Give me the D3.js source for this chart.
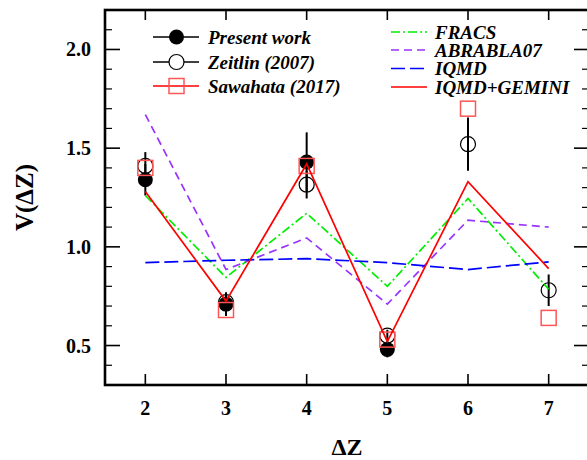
<!DOCTYPE html>
<html><head><meta charset="utf-8">
<script src="https://cdn.jsdelivr.net/npm/d3@7"></script>
<style>html,body{margin:0;padding:0;background:#fff;overflow:hidden}</style>
</head><body><svg id="c" width="587" height="460"></svg>
<script>
const dz = [2, 3, 4, 5, 6, 7];
const xTicks = [2, 3, 4, 5, 6, 7];
const yTicks = [0.5, 1.0, 1.5, 2.0];
const presentZ = [2, 3, 4, 5];
const presentV = [1.34, 0.71, 1.43, 0.48];
const presentErr = [0.08, 0.06, 0.15, 0.04];
const zeitlinV = [1.41, 0.72, 1.315, 0.55, 1.52, 0.78];
const zeitlinErr = [0.07, 0.03, 0.07, 0.03, 0.135, 0.08];
const sawahataV = [1.40, 0.68, 1.41, 0.53, 1.70, 0.64];
const fracsV = [1.26, 0.845, 1.17, 0.80, 1.245, 0.785];
const abrablaV = [1.67, 0.885, 1.045, 0.71, 1.135, 1.10];
const iqmdV = [0.92, 0.932, 0.94, 0.92, 0.885, 0.924];
const geminiV = [1.28, 0.725, 1.42, 0.52, 1.33, 0.89];

const svg = d3.select("#c");
const L = 105, R = 589, T = 10, B = 385;
const x = d3.scaleLinear().domain([1.5, 7.5]).range([L, R]);
const y = d3.scaleLinear().domain([0.3, 2.2]).range([B, T]);
const serif = "'Liberation Serif','Times New Roman',serif";

const minor = d3.range(0.4, 2.2, 0.1).map(v => +v.toFixed(1)).filter(v => !yTicks.some(t => Math.abs(t - v) < 1e-6));
const g = svg.append("g");
minor.forEach(v => {
  g.append("line").attr("x1", L).attr("x2", L + 7).attr("y1", y(v)).attr("y2", y(v)).attr("stroke", "#000").attr("stroke-width", 1.2);
  g.append("line").attr("x1", R - 7).attr("x2", R).attr("y1", y(v)).attr("y2", y(v)).attr("stroke", "#000").attr("stroke-width", 1.2);
});
yTicks.forEach(v => {
  g.append("line").attr("x1", L).attr("x2", L + 15).attr("y1", y(v)).attr("y2", y(v)).attr("stroke", "#000").attr("stroke-width", 1.6);
  g.append("line").attr("x1", R - 15).attr("x2", R).attr("y1", y(v)).attr("y2", y(v)).attr("stroke", "#000").attr("stroke-width", 1.6);
  g.append("text").attr("x", L - 14).attr("y", y(v)).attr("dy", "0.35em").attr("text-anchor", "end")
    .attr("font-family", serif).attr("font-weight", "bold").attr("font-size", 20).text(v.toFixed(1));
});
xTicks.forEach(v => {
  g.append("line").attr("x1", x(v)).attr("x2", x(v)).attr("y1", B).attr("y2", B - 11).attr("stroke", "#000").attr("stroke-width", 1.6);
  g.append("line").attr("x1", x(v)).attr("x2", x(v)).attr("y1", T).attr("y2", T + 10).attr("stroke", "#000").attr("stroke-width", 1.6);
  g.append("text").attr("x", x(v)).attr("y", 415).attr("text-anchor", "middle")
    .attr("font-family", serif).attr("font-weight", "bold").attr("font-size", 20).text(v);
});
svg.append("rect").attr("x", L).attr("y", T).attr("width", R - L).attr("height", B - T)
  .attr("fill", "none").attr("stroke", "#000").attr("stroke-width", 2.6);

svg.append("text").attr("x", 347).attr("y", 455).attr("text-anchor", "middle")
  .attr("font-family", serif).attr("font-weight", "bold").attr("font-size", 24).text("ΔZ");
svg.append("text").attr("transform", "translate(33,197.5) rotate(-90)").attr("text-anchor", "middle")
  .attr("font-family", serif).attr("font-weight", "bold").attr("font-size", 25).text("V(ΔZ)");

presentZ.forEach((z, i) => {
  svg.append("line").attr("x1", x(z)).attr("x2", x(z)).attr("y1", y(presentV[i] - presentErr[i])).attr("y2", y(presentV[i] + presentErr[i]))
    .attr("stroke", "#000").attr("stroke-width", 2);
});
dz.forEach((z, i) => {
  svg.append("line").attr("x1", x(z)).attr("x2", x(z)).attr("y1", y(zeitlinV[i] - zeitlinErr[i])).attr("y2", y(zeitlinV[i] + zeitlinErr[i]))
    .attr("stroke", "#000").attr("stroke-width", 2);
});
presentZ.forEach((z, i) => svg.append("circle").attr("cx", x(z)).attr("cy", y(presentV[i])).attr("r", 7.5).attr("fill", "#000"));
dz.forEach((z, i) => svg.append("circle").attr("cx", x(z)).attr("cy", y(zeitlinV[i])).attr("r", 7.5).attr("fill", "none").attr("stroke", "#000").attr("stroke-width", 1.2));
dz.forEach((z, i) => svg.append("rect").attr("x", x(z) - 7.5).attr("y", y(sawahataV[i]) - 7.5).attr("width", 15).attr("height", 15)
  .attr("fill", "none").attr("stroke", "#f55").attr("stroke-width", 1.5));

const line = d3.line().x((d, i) => x(dz[i])).y(d => y(d));
const models = [
  {v: fracsV, c: "#00ee00", dash: "9,3,2,3", name: "FRACS"},
  {v: abrablaV, c: "#9933ff", dash: "8,5", name: "ABRABLA07"},
  {v: iqmdV, c: "#0000ff", dash: "14,5", name: "IQMD"},
  {v: geminiV, c: "#ff0000", dash: null, name: "IQMD+GEMINI"}
];
models.forEach(m => {
  svg.append("path").attr("d", line(m.v)).attr("fill", "none").attr("stroke", m.c).attr("stroke-width", 1.7)
    .attr("stroke-dasharray", m.dash);
});

const leftLeg = [
  {name: "Present work", kind: "filled", y: 37},
  {name: "Zeitlin (2007)", kind: "open", y: 62},
  {name: "Sawahata (2017)", kind: "square", y: 86}
];
leftLeg.forEach(d => {
  svg.append("line").attr("x1", 153).attr("x2", 199).attr("y1", d.y).attr("y2", d.y)
    .attr("stroke", d.kind === "square" ? "#ff0000" : "#000").attr("stroke-width", 1.7);
  if (d.kind === "filled") svg.append("circle").attr("cx", 176.5).attr("cy", d.y).attr("r", 7.5).attr("fill", "#000");
  if (d.kind === "open") svg.append("circle").attr("cx", 176.5).attr("cy", d.y).attr("r", 7.5).attr("fill", "#fff").attr("stroke", "#000").attr("stroke-width", 1.2);
  if (d.kind === "square") svg.append("rect").attr("x", 169).attr("y", d.y - 7.5).attr("width", 15).attr("height", 15).attr("fill", "none").attr("stroke", "#f55").attr("stroke-width", 1.5);
  svg.append("text").attr("x", 208).attr("y", d.y).attr("dy", "0.35em").attr("font-family", serif)
    .attr("font-weight", "bold").attr("font-style", "italic").attr("font-size", 19).text(d.name);
});
const rightY = [32, 50, 68.5, 87];
models.forEach((m, i) => {
  svg.append("line").attr("x1", 391).attr("x2", 427).attr("y1", rightY[i]).attr("y2", rightY[i])
    .attr("stroke", m.c).attr("stroke-width", 1.7).attr("stroke-dasharray", m.dash);
  svg.append("text").attr("x", 435).attr("y", rightY[i]).attr("dy", "0.35em").attr("font-family", serif)
    .attr("font-weight", "bold").attr("font-style", "italic").attr("font-size", 19).text(m.name);
});
</script></body></html>
